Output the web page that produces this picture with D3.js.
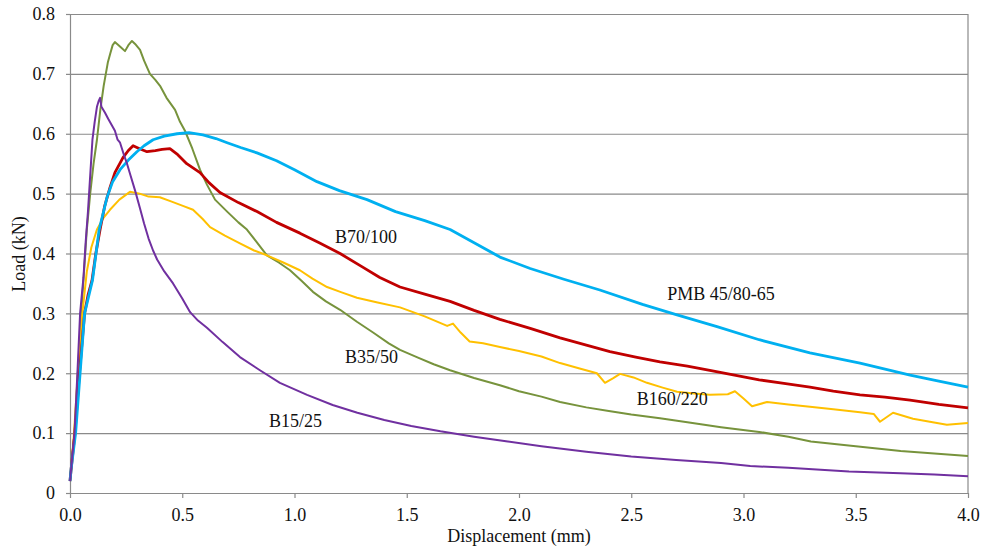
<!DOCTYPE html>
<html>
<head>
<meta charset="utf-8">
<script src="https://cdn.jsdelivr.net/npm/d3@7"></script>
<style>
  html, body { margin: 0; padding: 0; background: #fff; }
  svg { display: block; }
  svg text { font-family: "Liberation Serif", "Times New Roman", serif !important; fill: #111; }
</style>
</head>
<body>
<svg id="chart" width="982" height="546"></svg>
<script>
// ---- data ----
const xTicks = [0, 0.5, 1.0, 1.5, 2.0, 2.5, 3.0, 3.5, 4.0];
const yTicks = [0, 0.1, 0.2, 0.3, 0.4, 0.5, 0.6, 0.7, 0.8];

const seriesNames = ["PMB 45/80-65", "B70/100", "B160/220", "B35/50", "B15/25"];

const pmbDisp = [0, 0.005, 0.025, 0.045, 0.065, 0.1, 0.13, 0.165, 0.19, 0.223, 0.26, 0.298, 0.33, 0.37, 0.42, 0.477, 0.53, 0.592, 0.65, 0.70, 0.76, 0.833, 0.92, 1.0, 1.1, 1.2, 1.323, 1.45, 1.58, 1.693, 1.8, 1.915, 2.05, 2.2, 2.36, 2.55, 2.7, 2.882, 3.07, 3.296, 3.519, 3.742, 3.87, 4.0];
const pmbLoad = [0.02, 0.04, 0.1, 0.2, 0.3, 0.355, 0.44, 0.494, 0.52, 0.54, 0.556, 0.57, 0.58, 0.59, 0.596, 0.60, 0.602, 0.598, 0.592, 0.585, 0.577, 0.568, 0.555, 0.54, 0.52, 0.505, 0.49, 0.47, 0.455, 0.44, 0.418, 0.394, 0.375, 0.357, 0.339, 0.315, 0.298, 0.278, 0.256, 0.234, 0.217, 0.197, 0.187, 0.177];

const b70Disp = [0, 0.005, 0.022, 0.042, 0.065, 0.08, 0.098, 0.115, 0.134, 0.155, 0.178, 0.2, 0.236, 0.26, 0.281, 0.31, 0.343, 0.38, 0.41, 0.445, 0.48, 0.52, 0.579, 0.62, 0.668, 0.75, 0.833, 0.92, 1.024, 1.11, 1.203, 1.3, 1.38, 1.47, 1.58, 1.693, 1.8, 1.915, 2.05, 2.183, 2.3, 2.405, 2.52, 2.628, 2.75, 2.85, 2.96, 3.07, 3.18, 3.296, 3.4, 3.519, 3.63, 3.742, 3.87, 4.0];
const b70Load = [0.02, 0.04, 0.1, 0.2, 0.3, 0.33, 0.355, 0.40, 0.44, 0.48, 0.51, 0.535, 0.56, 0.572, 0.58, 0.575, 0.57, 0.572, 0.574, 0.575, 0.565, 0.55, 0.535, 0.518, 0.502, 0.485, 0.47, 0.452, 0.434, 0.418, 0.40, 0.378, 0.36, 0.344, 0.332, 0.32, 0.305, 0.29, 0.275, 0.259, 0.247, 0.236, 0.227, 0.219, 0.212, 0.205, 0.197, 0.189, 0.183, 0.177, 0.17, 0.164, 0.16, 0.155, 0.148, 0.142];

const b160Disp = [0, 0.005, 0.018, 0.035, 0.055, 0.075, 0.095, 0.12, 0.15, 0.178, 0.22, 0.267, 0.31, 0.35, 0.40, 0.45, 0.5, 0.548, 0.59, 0.624, 0.69, 0.757, 0.82, 0.877, 0.95, 1.024, 1.08, 1.145, 1.21, 1.278, 1.37, 1.47, 1.58, 1.68, 1.706, 1.74, 1.78, 1.84, 1.915, 2.0, 2.1, 2.183, 2.27, 2.347, 2.383, 2.42, 2.45, 2.51, 2.57, 2.64, 2.704, 2.78, 2.85, 2.93, 2.962, 3.0, 3.038, 3.105, 3.2, 3.296, 3.4, 3.519, 3.58, 3.608, 3.666, 3.755, 3.83, 3.906, 4.0];
const b160Load = [0.02, 0.04, 0.1, 0.2, 0.3, 0.37, 0.41, 0.44, 0.46, 0.473, 0.49, 0.503, 0.5, 0.495, 0.494, 0.487, 0.48, 0.473, 0.458, 0.444, 0.43, 0.417, 0.405, 0.397, 0.385, 0.372, 0.358, 0.344, 0.335, 0.326, 0.318, 0.31, 0.295, 0.279, 0.283, 0.268, 0.253, 0.25, 0.244, 0.237, 0.228, 0.217, 0.208, 0.2, 0.184, 0.192, 0.199, 0.193, 0.184, 0.176, 0.169, 0.166, 0.164, 0.165, 0.17, 0.158, 0.145, 0.152, 0.148, 0.144, 0.14, 0.135, 0.132, 0.119, 0.134, 0.124, 0.119, 0.114, 0.117];

const b35Disp = [0, 0.005, 0.02, 0.035, 0.05, 0.075, 0.09, 0.105, 0.12, 0.135, 0.15, 0.169, 0.18, 0.19, 0.2, 0.21, 0.225, 0.245, 0.26, 0.276, 0.29, 0.312, 0.33, 0.356, 0.38, 0.401, 0.43, 0.468, 0.49, 0.512, 0.545, 0.579, 0.61, 0.646, 0.7, 0.75, 0.788, 0.83, 0.877, 0.93, 0.98, 1.03, 1.082, 1.14, 1.203, 1.278, 1.35, 1.42, 1.47, 1.55, 1.62, 1.693, 1.8, 1.915, 2.0, 2.1, 2.183, 2.3, 2.4, 2.5, 2.628, 2.75, 2.9, 3.07, 3.2, 3.3, 3.5, 3.7, 3.85, 4.0];
const b35Load = [0.02, 0.04, 0.1, 0.2, 0.3, 0.44, 0.5, 0.55, 0.59, 0.64, 0.68, 0.72, 0.735, 0.748, 0.753, 0.75, 0.745, 0.738, 0.748, 0.755, 0.75, 0.74, 0.722, 0.70, 0.69, 0.68, 0.66, 0.64, 0.62, 0.605, 0.575, 0.54, 0.515, 0.49, 0.47, 0.452, 0.44, 0.42, 0.397, 0.385, 0.372, 0.355, 0.336, 0.32, 0.306, 0.286, 0.268, 0.25, 0.239, 0.226, 0.215, 0.205, 0.192, 0.18, 0.17, 0.161, 0.152, 0.143, 0.137, 0.131, 0.125, 0.118, 0.11, 0.102, 0.094, 0.086, 0.078, 0.07, 0.066, 0.062];

const b15Disp = [0, 0.005, 0.02, 0.033, 0.045, 0.06, 0.07, 0.08, 0.09, 0.1, 0.11, 0.12, 0.128, 0.134, 0.14, 0.148, 0.156, 0.17, 0.185, 0.2, 0.212, 0.223, 0.24, 0.254, 0.27, 0.29, 0.312, 0.33, 0.35, 0.37, 0.388, 0.42, 0.459, 0.5, 0.535, 0.57, 0.61, 0.68, 0.757, 0.846, 0.935, 1.056, 1.17, 1.28, 1.4, 1.52, 1.65, 1.8, 1.95, 2.1, 2.3, 2.5, 2.7, 2.9, 3.03, 3.2, 3.47, 3.7, 3.85, 4.0];
const b15Load = [0.02, 0.04, 0.1, 0.2, 0.3, 0.36, 0.42, 0.47, 0.53, 0.59, 0.62, 0.645, 0.655, 0.66, 0.645, 0.64, 0.635, 0.625, 0.615, 0.605, 0.59, 0.585, 0.565, 0.55, 0.53, 0.505, 0.475, 0.45, 0.425, 0.405, 0.39, 0.37, 0.35, 0.325, 0.302, 0.288, 0.276, 0.252, 0.227, 0.205, 0.184, 0.164, 0.147, 0.134, 0.122, 0.112, 0.103, 0.094, 0.086, 0.078, 0.069, 0.061, 0.055, 0.05, 0.045, 0.042, 0.036, 0.033, 0.031, 0.028];

// ---- chart ----
const FONT = '"Liberation Serif", "Times New Roman", serif';
const svg = d3.select("#chart");
const x = d3.scaleLinear().domain([0, 4]).range([70, 968]);
const y = d3.scaleLinear().domain([0, 0.8]).range([493, 14]);
const gridColor = "#8a8a8a";

// horizontal gridlines
svg.append("g")
  .attr("transform", "translate(70,0)")
  .call(d3.axisLeft(y).tickValues(yTicks.slice(1)).tickSize(-898).tickFormat(""))
  .call(g => g.select(".domain").remove())
  .call(g => g.selectAll("line").attr("stroke", gridColor).attr("stroke-width", 1.2));

// right border
svg.append("line")
  .attr("x1", x(4)).attr("x2", x(4)).attr("y1", y(0.8)).attr("y2", y(0))
  .attr("stroke", gridColor).attr("stroke-width", 1.2);

// y axis
svg.append("g")
  .attr("transform", "translate(70,0)")
  .call(d3.axisLeft(y).tickValues(yTicks).tickSize(4).tickSizeOuter(0).tickPadding(11)
        .tickFormat(d => d === 0 ? "0" : d3.format(".1f")(d)))
  .attr("font-family", FONT).attr("font-size", 18)
  .call(g => g.select(".domain").attr("stroke", gridColor).attr("stroke-width", 1.2))
  .call(g => g.selectAll("line").attr("stroke", gridColor).attr("stroke-width", 1.2))
  .call(g => g.selectAll("text").style("font-family", FONT).style("font-size", "18px").attr("fill", "#111"));

// x axis
svg.append("g")
  .attr("transform", "translate(0,493)")
  .call(d3.axisBottom(x).tickValues(xTicks).tickSize(5).tickSizeOuter(0).tickPadding(10)
        .tickFormat(d3.format(".1f")))
  .attr("font-family", FONT).attr("font-size", 18)
  .call(g => g.select(".domain").attr("stroke", gridColor).attr("stroke-width", 1.2))
  .call(g => g.selectAll("line").attr("stroke", gridColor).attr("stroke-width", 1.2))
  .call(g => g.selectAll("text").style("font-family", FONT).style("font-size", "18px").attr("fill", "#111"));

// axis titles
svg.append("text")
  .attr("x", 519).attr("y", 542)
  .attr("text-anchor", "middle").style("font-size", "18px").style("font-family", FONT)
  .text("Displacement (mm)");
svg.append("text")
  .attr("transform", "translate(25,254) rotate(-90)")
  .attr("text-anchor", "middle").style("font-size", "18px").style("font-family", FONT)
  .text("Load (kN)");

// series lines
const series = [
  { name: seriesNames[3], disp: b35Disp, load: b35Load, color: "#77933C", w: 2.0 },
  { name: seriesNames[2], disp: b160Disp, load: b160Load, color: "#FFC000", w: 2.0 },
  { name: seriesNames[1], disp: b70Disp, load: b70Load, color: "#C00000", w: 2.8 },
  { name: seriesNames[0], disp: pmbDisp, load: pmbLoad, color: "#00B0F0", w: 2.8 },
  { name: seriesNames[4], disp: b15Disp, load: b15Load, color: "#7030A0", w: 2.0 }
];
const line = d3.line().x(d => x(d[0])).y(d => y(d[1]));
series.forEach(s => {
  const pts = s.disp.map((d, i) => [d, s.load[i]]);
  svg.append("path")
    .datum(pts)
    .attr("fill", "none")
    .attr("stroke", s.color)
    .attr("stroke-width", s.w)
    .attr("stroke-linejoin", "round")
    .attr("d", line);
});

// in-plot labels (anchored at data coordinates)
const labels = [
  { text: seriesNames[1], dx: 1.18, dy: 0.418 },
  { text: seriesNames[0], dx: 2.66, dy: 0.323 },
  { text: seriesNames[3], dx: 1.225, dy: 0.217 },
  { text: seriesNames[2], dx: 2.525, dy: 0.147 },
  { text: seriesNames[4], dx: 0.886, dy: 0.110 }
];
svg.append("g").selectAll("text")
  .data(labels).join("text")
  .attr("x", d => x(d.dx)).attr("y", d => y(d.dy))
  .style("font-size", "18px").style("font-family", FONT)
  .text(d => d.text);
</script>
</body>
</html>
